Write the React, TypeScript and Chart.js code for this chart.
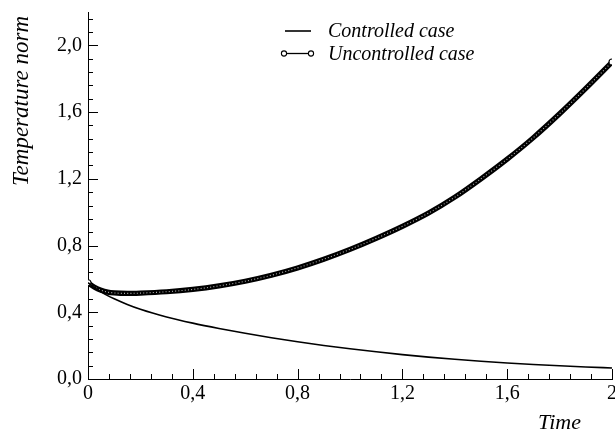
import React, { useEffect, useRef } from "react";
import { Chart, registerables } from "chart.js";

Chart.register(...registerables);

// ---- data ----
const timeValues = [0, 0.025, 0.05, 0.075, 0.1, 0.15, 0.2, 0.3, 0.4, 0.5, 0.6, 0.7, 0.8, 0.9, 1.0, 1.1, 1.2, 1.3, 1.4, 1.5, 1.6, 1.7, 1.8, 1.9, 2.0];
const controlledValues = [0.577, 0.547, 0.522, 0.5, 0.481, 0.447, 0.418, 0.372, 0.335, 0.303, 0.274, 0.247, 0.223, 0.201, 0.181, 0.163, 0.146, 0.131, 0.118, 0.106, 0.096, 0.087, 0.079, 0.072, 0.066];
const uncontrolledValues = [0.577, 0.55, 0.532, 0.521, 0.516, 0.513, 0.515, 0.523, 0.537, 0.558, 0.586, 0.622, 0.666, 0.718, 0.777, 0.843, 0.915, 0.995, 1.09, 1.2, 1.318, 1.447, 1.59, 1.742, 1.9];

const seriesLabels = ["Controlled case", "Uncontrolled case"];
const xTickValues = [0, 0.4, 0.8, 1.2, 1.6, 2.0];
const xTickLabels = ["0", "0,4", "0,8", "1,2", "1,6", "2"];
const yTickValues = [0, 0.4, 0.8, 1.2, 1.6, 2.0];
const yTickLabels = ["0,0", "0,4", "0,8", "1,2", "1,6", "2,0"];
const xAxisTitle = "Time";
const yAxisTitle = "Temperature norm";

const SERIF = '"Liberation Serif", "Times New Roman", serif';

export default function App() {
  const canvasRef = useRef<HTMLCanvasElement | null>(null);

  useEffect(() => {
    const canvas = canvasRef.current;
    if (!canvas) return;

    const toPoints = (vals: number[]) => timeValues.map((t, i) => ({ x: t, y: vals[i] }));
    const lastIdx = timeValues.length - 1;

    const decorPlugin = {
      id: "decor",
      afterDraw(chart: any) {
        const ctx = chart.ctx as CanvasRenderingContext2D;
        const xs = chart.scales.x;
        const ys = chart.scales.y;
        const area = chart.chartArea;
        ctx.save();
        ctx.strokeStyle = "#000";
        ctx.lineWidth = 1;
        // inward tick marks
        for (let i = 0; i <= 25; i++) {
          const v = i * 0.08;
          const px = Math.round(xs.getPixelForValue(v)) + 0.5;
          const len = i % 5 === 0 ? 10 : 5;
          ctx.beginPath();
          ctx.moveTo(px, area.bottom);
          ctx.lineTo(px, area.bottom - len);
          ctx.stroke();
        }
        for (let i = 0; i <= 27; i++) {
          const v = i * 0.08;
          const py = Math.round(ys.getPixelForValue(v)) + 0.5;
          const len = i % 5 === 0 ? 10 : 5;
          ctx.beginPath();
          ctx.moveTo(area.left, py);
          ctx.lineTo(area.left + len, py);
          ctx.stroke();
        }

        // legend
        ctx.fillStyle = "#000";
        ctx.font = `italic 20px ${SERIF}`;
        ctx.textAlign = "left";
        ctx.textBaseline = "alphabetic";
        ctx.lineWidth = 1.6;
        ctx.beginPath();
        ctx.moveTo(285, 31);
        ctx.lineTo(311, 31);
        ctx.stroke();
        ctx.fillText(seriesLabels[0], 328, 37);

        ctx.lineWidth = 1.3;
        ctx.beginPath();
        ctx.moveTo(284, 53.5);
        ctx.lineTo(311, 53.5);
        ctx.stroke();
        for (const cx of [284, 311]) {
          ctx.beginPath();
          ctx.arc(cx, 53.5, 2.6, 0, Math.PI * 2);
          ctx.fillStyle = "#fff";
          ctx.fill();
          ctx.lineWidth = 1.1;
          ctx.stroke();
        }
        ctx.fillStyle = "#000";
        ctx.fillText(seriesLabels[1], 328, 59.5);

        // axis titles
        ctx.font = `italic 22px ${SERIF}`;
        ctx.textAlign = "center";
        ctx.fillText(xAxisTitle, 559.5, 429);

        ctx.save();
        ctx.font = `italic 23px ${SERIF}`;
        ctx.translate(28, 101);
        ctx.rotate(-Math.PI / 2);
        ctx.textAlign = "center";
        ctx.fillText(yAxisTitle, 0, 0);
        ctx.restore();

        ctx.restore();
      },
    };

    const chart = new Chart(canvas, {
      type: "line",
      data: {
        datasets: [
          {
            label: seriesLabels[0],
            data: toPoints(controlledValues),
            borderColor: "#000",
            borderWidth: 1.6,
            pointRadius: 0,
            fill: false,
            cubicInterpolationMode: "monotone",
            order: 1,
          },
          {
            label: seriesLabels[1] + " (chain)",
            data: toPoints(uncontrolledValues),
            borderColor: "rgba(255,255,255,0.7)",
            borderWidth: 1.1,
            borderDash: [1, 2.2],
            pointRadius: 0,
            fill: false,
            cubicInterpolationMode: "monotone",
            order: 2,
          },
          {
            label: seriesLabels[1],
            data: toPoints(uncontrolledValues),
            borderColor: "#000",
            borderWidth: 5.2,
            pointRadius: (c: any) => (c.dataIndex === 0 || c.dataIndex === lastIdx ? 3 : 0),
            pointBackgroundColor: "#fff",
            pointBorderColor: "#000",
            pointBorderWidth: 1.1,
            fill: false,
            cubicInterpolationMode: "monotone",
            order: 3,
          },
        ],
      } as any,
      options: {
        animation: false,
        responsive: false,
        maintainAspectRatio: false,
        layout: { padding: { top: 12, right: 28, bottom: 0, left: 0 } },
        plugins: { legend: { display: false }, tooltip: { enabled: false } },
        scales: {
          x: {
            type: "linear",
            min: 0,
            max: 2,
            afterBuildTicks: (s: any) => {
              s.ticks = xTickValues.map((v) => ({ value: v }));
            },
            afterFit: (s: any) => {
              s.height = 60;
              s.paddingLeft = 0;
              s.paddingRight = 0;
            },
            ticks: {
              callback: (_v: any, i: number) => xTickLabels[i],
              font: { family: SERIF, size: 20 },
              color: "#000",
              padding: 3,
              maxRotation: 0,
              autoSkip: false,
            },
            grid: { display: false, drawTicks: false },
            border: { display: true, color: "#000", width: 1 },
          },
          y: {
            type: "linear",
            min: 0,
            max: 2.2,
            afterBuildTicks: (s: any) => {
              s.ticks = yTickValues.map((v) => ({ value: v }));
            },
            afterFit: (s: any) => {
              s.width = 88;
              s.paddingTop = 0;
              s.paddingBottom = 0;
            },
            ticks: {
              callback: (_v: any, i: number) => yTickLabels[i],
              font: { family: SERIF, size: 20 },
              color: "#000",
              padding: 6,
              autoSkip: false,
            },
            grid: { display: false, drawTicks: false },
            border: { display: true, color: "#000", width: 1 },
          },
        },
      } as any,
      plugins: [decorPlugin],
    });

    return () => chart.destroy();
  }, []);

  return (
    <div
      style={{
        position: "fixed",
        left: 0,
        top: 0,
        width: 615,
        height: 439,
        overflow: "hidden",
        background: "#fff",
      }}
    >
      <canvas ref={canvasRef} width={640} height={439} style={{ display: "block" }} />
    </div>
  );
}
